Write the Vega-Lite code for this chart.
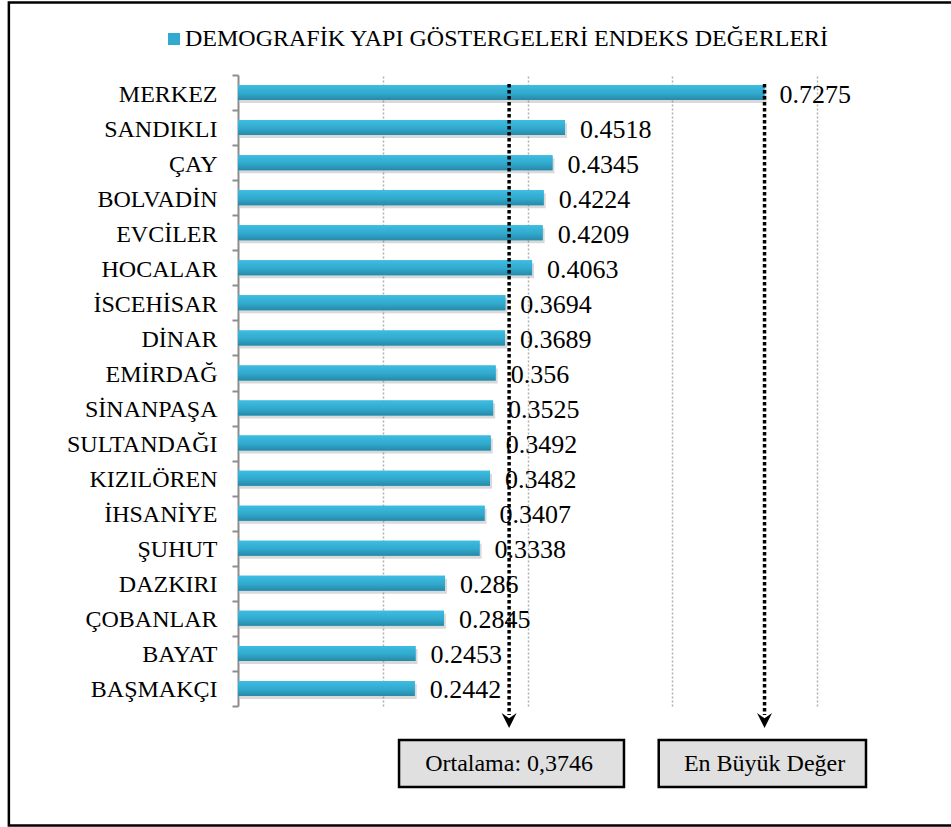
{
  "$schema": "https://vega.github.io/schema/vega-lite/v6.json",
  "width": 579,
  "height": 631,
  "autosize": {"type": "none"},
  "padding": {"left": 238, "top": 75, "right": 134, "bottom": 121},
  "background": "white",
  "config": {"view": {"stroke": null}, "font": "Liberation Serif"},
  "datasets": {
    "districts": [
      {"district": "MERKEZ", "value": 0.7275},
      {"district": "SANDIKLI", "value": 0.4518},
      {"district": "ÇAY", "value": 0.4345},
      {"district": "BOLVADİN", "value": 0.4224},
      {"district": "EVCİLER", "value": 0.4209},
      {"district": "HOCALAR", "value": 0.4063},
      {"district": "İSCEHİSAR", "value": 0.3694},
      {"district": "DİNAR", "value": 0.3689},
      {"district": "EMİRDAĞ", "value": 0.356},
      {"district": "SİNANPAŞA", "value": 0.3525},
      {"district": "SULTANDAĞI", "value": 0.3492},
      {"district": "KIZILÖREN", "value": 0.3482},
      {"district": "İHSANİYE", "value": 0.3407},
      {"district": "ŞUHUT", "value": 0.3338},
      {"district": "DAZKIRI", "value": 0.286},
      {"district": "ÇOBANLAR", "value": 0.2845},
      {"district": "BAYAT", "value": 0.2453},
      {"district": "BAŞMAKÇI", "value": 0.2442}
    ],
    "refs": [
      {"label": "Ortalama: 0,3746", "value": 0.3746},
      {"label": "En Büyük Değer", "value": 0.7275}
    ]
  },
  "resolve": {"scale": {"y": "independent"}},
  "layer": [
    {
      "data": {"values": [{}]},
      "mark": {"type": "rect", "fill": null, "stroke": "#000", "strokeWidth": 2.5},
      "encoding": {
        "x": {"datum": -0.3166, "type": "quantitative", "scale": {"domain": [0, 0.8], "nice": false, "zero": false}},
        "x2": {"datum": 1.0},
        "y": {"datum": -72.5, "type": "quantitative", "scale": {"domain": [0, 631], "reverse": true, "nice": false, "zero": false}, "axis": null},
        "y2": {"datum": 750.5}
      }
    },
    {
      "data": {"name": "districts"},
      "layer": [
        {
          "mark": {"type": "bar", "size": 15, "color": "#808080", "opacity": 0.3, "yOffset": 3, "xOffset": 2, "x2Offset": 3},
          "encoding": {
            "x": {"field": "value", "type": "quantitative"},
            "y": {"field": "district", "type": "nominal", "sort": null}
          }
        },
        {
          "mark": {"type": "bar", "size": 15},
          "encoding": {
            "x": {
              "field": "value", "type": "quantitative",
              "scale": {"domain": [0, 0.8], "nice": false, "zero": false},
              "axis": {"values": [0.2, 0.4, 0.6, 0.8], "labels": false, "ticks": false, "domain": false, "title": null, "grid": true, "gridColor": "#b0b0b0", "gridDash": [2, 2], "gridWidth": 1.5}
            },
            "y": {
              "field": "district", "type": "nominal", "sort": null,
              "scale": {"paddingInner": 0, "paddingOuter": 0},
              "axis": {"title": null, "domainColor": "#8c8c8c", "domainWidth": 2, "tickColor": "#8c8c8c", "tickWidth": 2, "tickSize": 6, "tickBand": "extent", "labelFont": "Liberation Serif", "labelFontSize": 24, "labelColor": "#000", "labelPadding": 15, "labelBaseline": "alphabetic", "labelOffset": 8.5, "labelAlign": "right"}
            },
            "color": {
              "datum": "DEMOGRAFİK YAPI GÖSTERGELERİ ENDEKS DEĞERLERİ", "type": "nominal",
              "scale": {"range": ["#32aacf"]},
              "legend": {"title": null, "orient": "none", "legendX": -76, "legendY": -48, "symbolType": "square", "symbolSize": 144, "symbolStrokeWidth": 0, "labelFont": "Liberation Serif", "labelFontSize": 24, "labelColor": "#000", "labelOffset": -1, "labelLimit": 1000}
            }
          }
        },
        {
          "mark": {"type": "bar", "size": 15, "fill": {"gradient": "linear", "x1": 0, "y1": 0, "x2": 0, "y2": 1, "stops": [{"offset": 0, "color": "#3dbde2"}, {"offset": 0.55, "color": "#31a9cd"}, {"offset": 1, "color": "#2789a8"}]}},
          "encoding": {
            "x": {"field": "value", "type": "quantitative"},
            "y": {"field": "district", "type": "nominal", "sort": null}
          }
        },
        {
          "mark": {"type": "text", "align": "left", "baseline": "alphabetic", "dx": 15, "dy": 10, "fontSize": 26, "font": "Liberation Serif", "color": "#000"},
          "encoding": {
            "x": {"field": "value", "type": "quantitative"},
            "y": {"field": "district", "type": "nominal", "sort": null},
            "text": {"field": "value", "type": "nominal"}
          }
        }
      ]
    },
    {
      "data": {"name": "refs"},
      "layer": [
        {
          "mark": {"type": "rule", "strokeDash": [3.5, 2.5], "strokeWidth": 3.5, "color": "#000"},
          "encoding": {
            "x": {"field": "value", "type": "quantitative"},
            "y": {"datum": 9, "type": "quantitative", "scale": {"domain": [0, 631], "reverse": true, "nice": false, "zero": false}, "axis": null},
            "y2": {"datum": 640}
          }
        },
        {
          "mark": {"type": "point", "shape": "M-1,-1L0,1L1,-1L0,-0.3Z", "size": 225, "filled": true, "color": "#000", "opacity": 1, "strokeWidth": 0},
          "encoding": {
            "x": {"field": "value", "type": "quantitative"},
            "y": {"datum": 645.5, "type": "quantitative"}
          }
        },
        {
          "data": {"values": [{}]},
          "mark": {"type": "rect", "fill": "#e0e0e0", "stroke": "#000", "strokeWidth": 2.5},
          "encoding": {
            "x": {"datum": 0.2225, "type": "quantitative"},
            "x2": {"datum": 0.5333},
            "y": {"datum": 665, "type": "quantitative"},
            "y2": {"datum": 712}
          }
        },
        {
          "data": {"values": [{}]},
          "mark": {"type": "rect", "fill": "#e0e0e0", "stroke": "#000", "strokeWidth": 2.5},
          "encoding": {
            "x": {"datum": 0.5813, "type": "quantitative"},
            "x2": {"datum": 0.8677},
            "y": {"datum": 665, "type": "quantitative"},
            "y2": {"datum": 712}
          }
        },
        {
          "mark": {"type": "text", "align": "center", "baseline": "middle", "fontSize": 24, "font": "Liberation Serif", "color": "#000"},
          "encoding": {
            "x": {"field": "value", "type": "quantitative"},
            "y": {"datum": 688.5, "type": "quantitative"},
            "text": {"field": "label", "type": "nominal"}
          }
        }
      ]
    }
  ]
}
